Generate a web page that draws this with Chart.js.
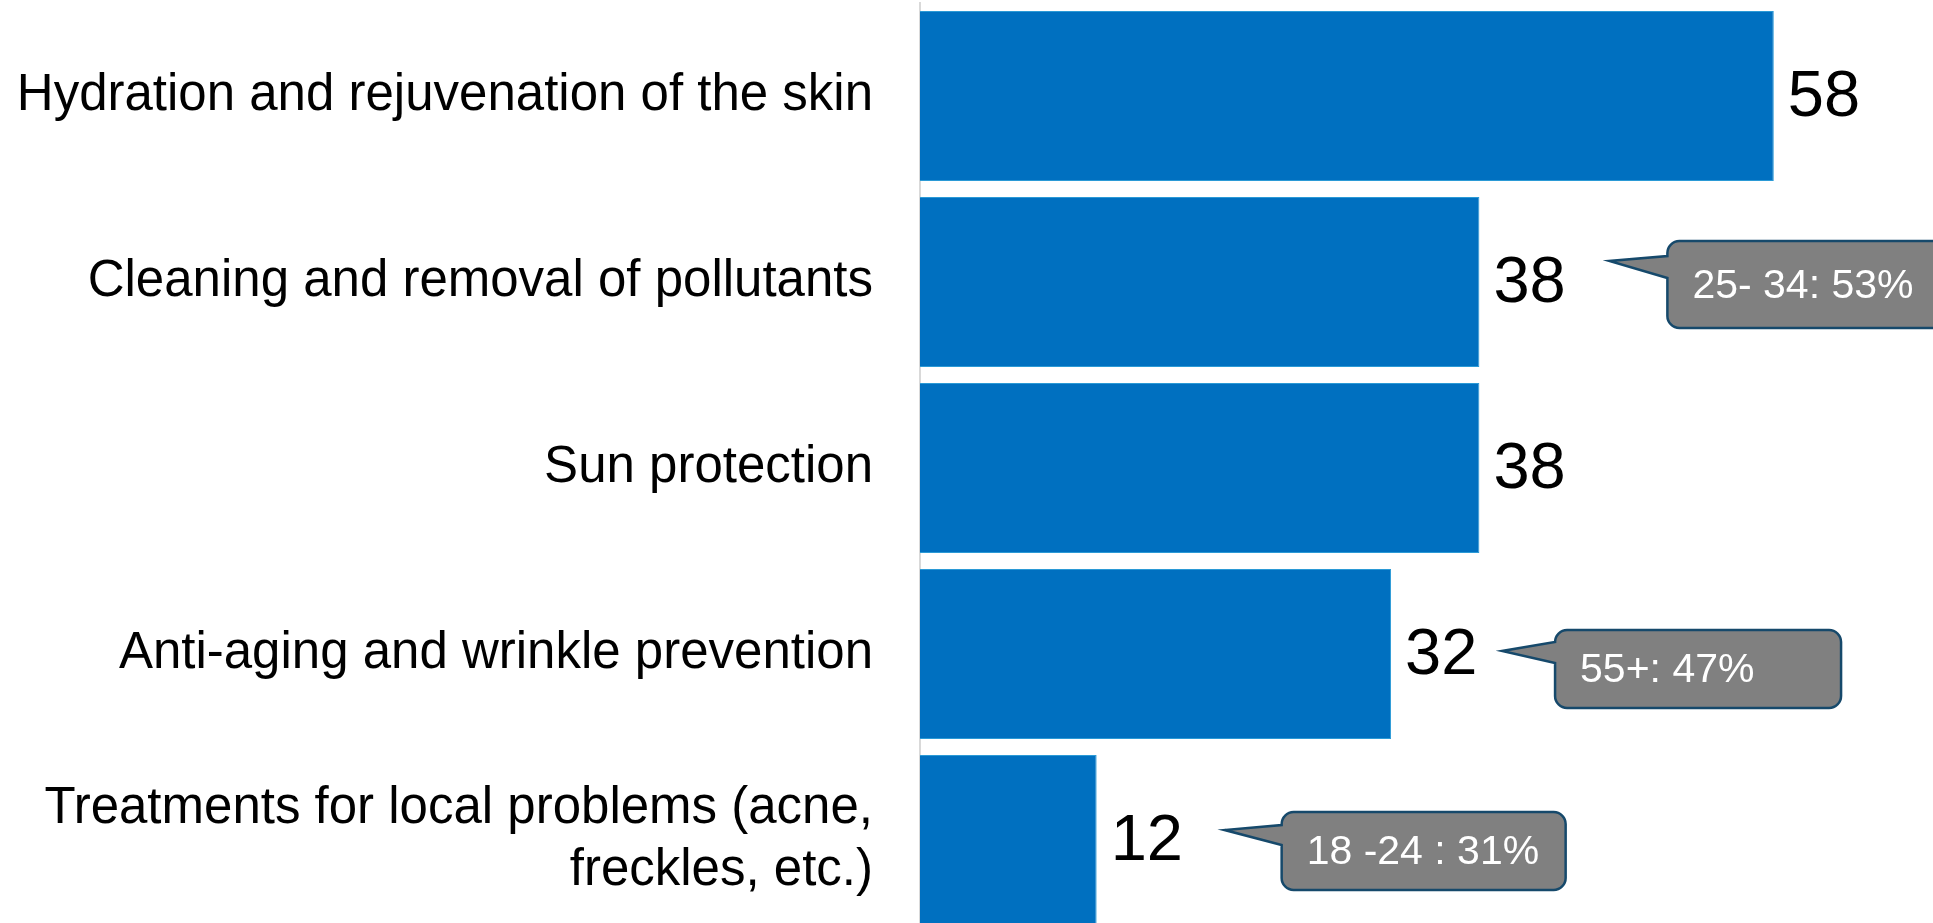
<!DOCTYPE html>
<html>
<head>
<meta charset="utf-8">
<script src="https://cdn.jsdelivr.net/npm/chart.js@4.4.0/dist/chart.umd.min.js"></script>
<style>
    html, body { margin: 0; padding: 0; background: #fff; overflow: hidden; }
    canvas { display: block; }
</style>
</head>
<body>
<canvas id="benefitsChart" width="1933" height="933"></canvas>
<script>
// Chart Data
const categories = [
    'Hydration and rejuvenation of the skin',
    'Cleaning and removal of pollutants',
    'Sun protection',
    'Anti-aging and wrinkle prevention',
    ['Treatments for local problems (acne,', 'freckles, etc.)']
];
const values = [58, 38, 38, 32, 12];
const calloutTexts = ['', '25- 34: 53%', '', '55+: 47%', '18 -24 : 31%'];

// Callout placement, relative to the end of the bar and the bar centre
const calloutLayout = {
    1: { boxDx: 188, boxDy: -41, w: 284, h: 87, tipDx: 130, tipDy: -21, baseTop: 15, baseBottom: 37 },
    3: { boxDx: 164, boxDy: -24, w: 286, h: 78, tipDx: 111, tipDy: -3, baseTop: 12, baseBottom: 33 },
    4: { boxDx: 185, boxDy: -28, w: 284, h: 78, tipDx: 128, tipDy: -10, baseTop: 13, baseBottom: 33 }
};

const fontFamily = '"Liberation Sans", Arial, sans-serif';

// Value at the end of each bar
const valueLabels = {
    id: 'valueLabels',
    afterDatasetsDraw(chart) {
        const ctx = chart.ctx;
        const meta = chart.getDatasetMeta(0);
        ctx.save();
        ctx.font = '65px ' + fontFamily;
        ctx.fillStyle = '#000';
        ctx.textAlign = 'left';
        ctx.textBaseline = 'middle';
        meta.data.forEach((bar, i) => {
            ctx.fillText(String(values[i]), bar.x + 14, bar.y + 2);
        });
        ctx.restore();
    }
};

// Grey speech bubbles next to some of the values
const callouts = {
    id: 'callouts',
    afterDatasetsDraw(chart) {
        const ctx = chart.ctx;
        const meta = chart.getDatasetMeta(0);
        ctx.save();
        meta.data.forEach((bar, i) => {
            const text = calloutTexts[i];
            const c = calloutLayout[i];
            if (!text || !c) return;
            const left = bar.x + c.boxDx;
            const top = bar.y + c.boxDy;
            const right = left + c.w;
            const bottom = top + c.h;
            const r = 12;

            ctx.beginPath();
            ctx.moveTo(left + r, top);
            ctx.lineTo(right - r, top);
            ctx.arcTo(right, top, right, top + r, r);
            ctx.lineTo(right, bottom - r);
            ctx.arcTo(right, bottom, right - r, bottom, r);
            ctx.lineTo(left + r, bottom);
            ctx.arcTo(left, bottom, left, bottom - r, r);
            ctx.lineTo(left, top + c.baseBottom);
            ctx.lineTo(bar.x + c.tipDx, bar.y + c.tipDy);
            ctx.lineTo(left, top + c.baseTop);
            ctx.lineTo(left, top + r);
            ctx.arcTo(left, top, left + r, top, r);
            ctx.closePath();
            ctx.fillStyle = '#808080';
            ctx.fill();
            ctx.lineWidth = 2.5;
            ctx.strokeStyle = '#16496b';
            ctx.stroke();

            ctx.font = '41px ' + fontFamily;
            ctx.fillStyle = '#fff';
            ctx.textAlign = 'left';
            ctx.textBaseline = 'middle';
            ctx.fillText(text, left + 25, top + c.h / 2 + 2);
        });
        ctx.restore();
    }
};

const benefitsCtx = document.getElementById('benefitsChart').getContext('2d');
new Chart(benefitsCtx, {
    type: 'bar',
    data: {
        labels: categories,
        datasets: [{
            data: values,
            backgroundColor: '#0070C0',
            borderColor: '#2b9ad6',
            borderWidth: 1,
            categoryPercentage: 0.915,
            barPercentage: 1
        }]
    },
    options: {
        indexAxis: 'y',
        responsive: false,
        animation: false,
        layout: {
            padding: { top: 3, right: 12, bottom: 0, left: 0 }
        },
        plugins: {
            legend: { display: false },
            tooltip: { enabled: false }
        },
        scales: {
            x: {
                display: false,
                min: 0,
                max: 68
            },
            y: {
                afterFit(scale) {
                    scale.width = 920;
                    scale.paddingTop = 0;
                    scale.paddingBottom = 0;
                },
                grid: {
                    display: false,
                    drawTicks: false
                },
                border: {
                    display: true,
                    color: '#d9d9d9',
                    width: 2
                },
                ticks: {
                    padding: 47,
                    color: '#000',
                    font: {
                        family: fontFamily,
                        size: 51,
                        lineHeight: 1.2
                    }
                }
            }
        }
    },
    plugins: [valueLabels, callouts]
});
</script>
</body>
</html>
